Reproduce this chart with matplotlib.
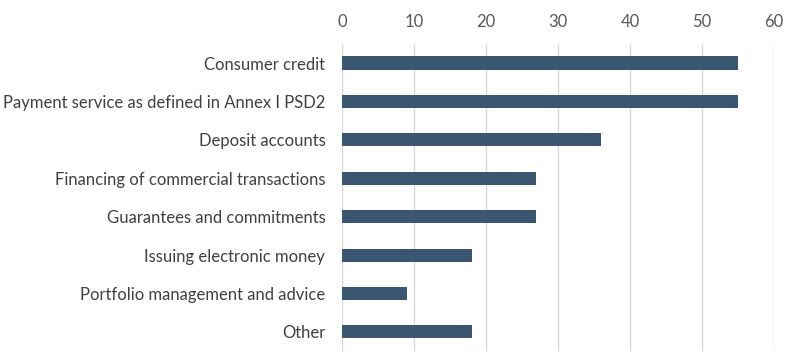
import matplotlib
matplotlib.use("Agg")
import matplotlib.pyplot as plt

# Categories and values (top to bottom)
categories = [
    "Consumer credit",
    "Payment service as defined in Annex I PSD2",
    "Deposit accounts",
    "Financing of commercial transactions",
    "Guarantees and commitments",
    "Issuing electronic money",
    "Portfolio management and advice",
    "Other",
]
values = [55, 55, 36, 27, 27, 18, 9, 18]
x_ticks = [0, 10, 20, 30, 40, 50, 60]

plt.rcParams["font.family"] = ["Lato", "DejaVu Sans"]

fig = plt.figure(figsize=(7.94, 3.59), dpi=100)
ax = fig.add_axes([0.4307, 0.022, 0.5441, 0.856])

y = list(range(len(categories)))
ax.barh(y, values, height=0.34, color="#3b5670", zorder=3)

ax.set_ylim(len(categories) - 0.5, -0.5)
ax.set_xlim(0, 60)
ax.set_xticks(x_ticks)
ax.set_yticks(y)
ax.set_yticklabels(categories)

ax.xaxis.tick_top()
ax.tick_params(axis="x", length=0, pad=10, labelsize=12, colors="#595959")
ax.tick_params(axis="y", length=0, pad=12, labelsize=12, colors="#404040")

ax.grid(axis="x", color="#d9d9d9", linewidth=1, zorder=0)
for s in ax.spines.values():
    s.set_visible(False)

fig.savefig("out.png", dpi=100)
